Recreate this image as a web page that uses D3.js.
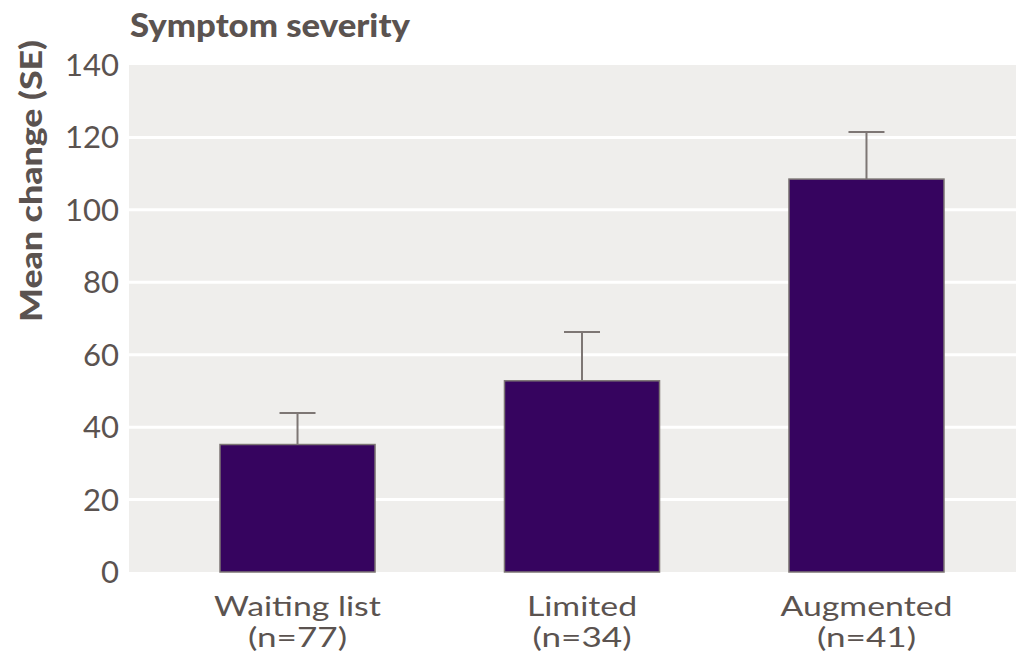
<!DOCTYPE html>
<html><head><meta charset="utf-8">
<script src="https://cdn.jsdelivr.net/npm/d3@7"></script>
<style>body{margin:0;background:#fff;} svg{display:block;}</style>
</head><body>
<script>
const categories = ["Waiting list", "Limited", "Augmented"];
const sampleSizes = ["(n=77)", "(n=34)", "(n=41)"];
const meanChange = [35.2, 52.8, 108.5];
const standardError = [8.7, 13.5, 13.0];
const yTicks = [0, 20, 40, 60, 80, 100, 120, 140];
const title = "Symptom severity";
const yTitle = "Mean change (SE)";

const W = 1016, H = 655;
const plot = {left: 129, right: 1016, top: 65, bottom: 572};
const textColor = "#5b5350";
const font = "Lato, 'Open Sans', sans-serif";

const svg = d3.select("body").append("svg").attr("width", W).attr("height", H);

const y = d3.scaleLinear().domain([0, 140]).range([plot.bottom, plot.top]);
const x = d3.scaleBand().domain(categories).range([220, 944]).paddingInner(0.455).paddingOuter(0);

svg.append("rect").attr("x", plot.left).attr("y", plot.top)
  .attr("width", plot.right - plot.left).attr("height", plot.bottom - plot.top)
  .attr("fill", "#efeeec");

svg.append("g").selectAll("line").data(yTicks.filter(t => t > 0 && t < 140)).join("line")
  .attr("x1", plot.left).attr("x2", plot.right)
  .attr("y1", d => y(d)).attr("y2", d => y(d))
  .attr("stroke", "#ffffff").attr("stroke-width", 3);

const yAxis = svg.append("g").attr("transform", `translate(${plot.left},0)`)
  .call(d3.axisLeft(y).tickValues(yTicks).tickSize(0).tickPadding(10));
yAxis.select(".domain").remove();
yAxis.selectAll("text").attr("font-family", font).attr("font-size", 30)
  .attr("fill", textColor).attr("dy", "0.35em")
  .each(function() { this.setAttribute("textLength", this.textContent.length * 18); this.setAttribute("lengthAdjust", "spacingAndGlyphs"); });

const data = categories.map((c, i) => ({c, m: meanChange[i], se: standardError[i], n: sampleSizes[i]}));

svg.append("g").selectAll("rect").data(data).join("rect")
  .attr("x", d => x(d.c)).attr("width", x.bandwidth())
  .attr("y", d => y(d.m)).attr("height", d => y(0) - y(d.m))
  .attr("fill", "#36045f").attr("stroke", "#7d7674").attr("stroke-width", 1.5);

const eb = svg.append("g").attr("stroke", "#7d7674").attr("stroke-width", 2);
eb.selectAll(".v").data(data).join("line")
  .attr("x1", d => x(d.c) + x.bandwidth()/2).attr("x2", d => x(d.c) + x.bandwidth()/2)
  .attr("y1", d => y(d.m)).attr("y2", d => y(d.m + d.se));
eb.selectAll(".h").data(data).join("line")
  .attr("x1", d => x(d.c) + x.bandwidth()/2 - 18).attr("x2", d => x(d.c) + x.bandwidth()/2 + 18)
  .attr("y1", d => y(d.m + d.se)).attr("y2", d => y(d.m + d.se));

const xl = svg.append("g").attr("font-family", font).attr("font-size", 26)
  .attr("fill", textColor).attr("text-anchor", "middle");
function stretch(sel, k) {
  sel.each(function() {
    const w = this.getComputedTextLength();
    this.setAttribute("textLength", w * k);
    this.setAttribute("lengthAdjust", "spacingAndGlyphs");
  });
}
const l1 = xl.selectAll(".l1").data(data).join("text").attr("class", "l1")
  .attr("x", d => x(d.c) + x.bandwidth()/2).attr("y", 616).text(d => d.c);
stretch(l1, 1.3);
const l2 = xl.selectAll(".l2").data(data).join("text").attr("class", "l2")
  .attr("x", d => x(d.c) + x.bandwidth()/2).attr("y", 647).text(d => d.n);
stretch(l2, 1.35);

svg.append("text").attr("x", 130).attr("y", 37)
  .attr("font-family", font).attr("font-weight", 900).attr("font-size", 33)
  .attr("textLength", 280).attr("lengthAdjust", "spacingAndGlyphs")
  .attr("fill", textColor).text(title);

svg.append("text").attr("transform", "translate(42,181) rotate(-90)")
  .attr("text-anchor", "middle")
  .attr("font-family", font).attr("font-weight", 900).attr("font-size", 30)
  .attr("textLength", 282).attr("lengthAdjust", "spacingAndGlyphs")
  .attr("fill", textColor).text(yTitle);
</script>
</body></html>
